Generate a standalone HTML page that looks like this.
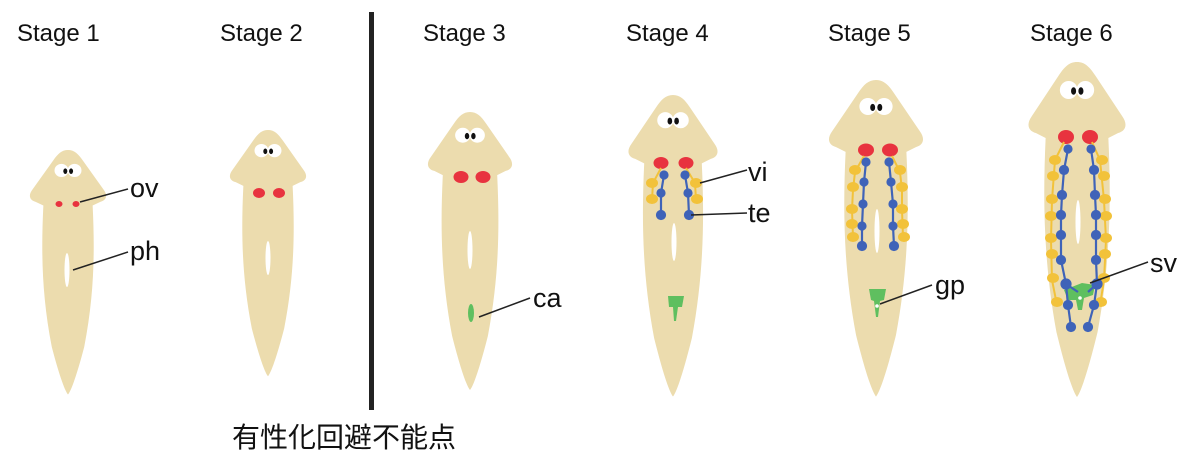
<!DOCTYPE html>
<html><head><meta charset="utf-8"><style>
html,body{margin:0;padding:0;background:#fff;width:1200px;height:470px;overflow:hidden}
svg{display:block}
text{font-family:"Liberation Sans","Noto Sans CJK JP",sans-serif;fill:#111}
</style></head><body>
<svg width="1200" height="470" viewBox="0 0 1200 470">
<defs>
<path id="w" d="M0,0 C-8,0 -13,5 -19,14 L-46,54 C-52,62 -50,69 -42,71 L-32,76 C-35,140 -34,200 -21,270 C-11,310 -4,330 0,335 C4,330 11,310 21,270 C34,200 35,140 32,76 L42,71 C50,69 52,62 46,54 L19,14 C13,5 8,0 0,0Z" fill="#ecdcae"/>
<g id="eyes"><circle cx="-8.5" cy="28" r="9" fill="#fff"/><circle cx="8.5" cy="28" r="9" fill="#fff"/><ellipse cx="-3.5" cy="29" rx="2.6" ry="3.8" fill="#111"/><ellipse cx="4" cy="29" rx="2.6" ry="3.8" fill="#111"/></g>
</defs>
<g font-size="24">
<text x="17" y="41">Stage 1</text><text x="220" y="41">Stage 2</text><text x="423" y="41">Stage 3</text>
<text x="626" y="41">Stage 4</text><text x="828" y="41">Stage 5</text><text x="1030" y="41">Stage 6</text>
</g>
<rect x="369" y="12" width="5" height="398" fill="#222"/>
<text x="232" y="447" font-size="28">有性化回避不能点</text>

<!-- Stage 1 -->
<g transform="translate(68,150) scale(0.77,0.73)"><use href="#w"/><use href="#eyes"/></g>
<ellipse cx="59" cy="204" rx="3.5" ry="3" fill="#e8333f"/><ellipse cx="76" cy="204" rx="3.5" ry="3" fill="#e8333f"/>
<ellipse cx="67" cy="270" rx="2.5" ry="17" fill="#fff"/>
<line x1="80" y1="202" x2="128" y2="189" stroke="#222" stroke-width="1.5"/>
<line x1="73" y1="270" x2="128" y2="252" stroke="#222" stroke-width="1.5"/>
<text x="130" y="197" font-size="27">ov</text><text x="130" y="260" font-size="27">ph</text>

<!-- Stage 2 -->
<g transform="translate(268,130) scale(0.77,0.735)"><use href="#w"/><use href="#eyes"/></g>
<ellipse cx="259" cy="193" rx="6" ry="5" fill="#e8333f"/><ellipse cx="279" cy="193" rx="6" ry="5" fill="#e8333f"/>
<ellipse cx="268" cy="258" rx="2.5" ry="17" fill="#fff"/>

<!-- Stage 3 -->
<g transform="translate(470,112) scale(0.85,0.83)"><use href="#w"/><use href="#eyes"/></g>
<ellipse cx="461" cy="177" rx="7.5" ry="6" fill="#e8333f"/><ellipse cx="483" cy="177" rx="7.5" ry="6" fill="#e8333f"/>
<ellipse cx="470" cy="250" rx="2.5" ry="19" fill="#fff"/>
<ellipse cx="471" cy="313" rx="3" ry="9" fill="#5fbf5f"/>
<line x1="479" y1="317" x2="530" y2="298" stroke="#222" stroke-width="1.5"/>
<text x="533" y="307" font-size="27">ca</text>

<!-- Stage 4 -->
<g transform="translate(673,95) scale(0.9,0.9)"><use href="#w"/><use href="#eyes"/></g>
<ellipse cx="661" cy="163" rx="7.5" ry="6" fill="#e8333f"/><ellipse cx="686" cy="163" rx="7.5" ry="6" fill="#e8333f"/>
<g stroke="#f2c23a" stroke-width="2" fill="#f2c23a">
<polyline points="661,168 653,183 652,200" fill="none"/><polyline points="686,168 695,183 696,200" fill="none"/>
<ellipse cx="652" cy="183" rx="5" ry="4"/><ellipse cx="652" cy="199" rx="5" ry="4"/>
<ellipse cx="696" cy="183" rx="5" ry="4"/><ellipse cx="697" cy="199" rx="5" ry="4"/>
</g>
<g stroke="#3f63b8" stroke-width="2.2" fill="#3f63b8">
<polyline points="664,175 661,193 661,215" fill="none"/><polyline points="685,175 688,193 689,215" fill="none"/>
<circle cx="664" cy="175" r="3.5"/><circle cx="661" cy="193" r="3.5"/><circle cx="661" cy="215" r="4"/>
<circle cx="685" cy="175" r="3.5"/><circle cx="688" cy="193" r="3.5"/><circle cx="689" cy="215" r="4"/>
</g>
<ellipse cx="674" cy="242" rx="2.5" ry="19" fill="#fff"/>
<path d="M668,296 L684,296 L682,307 L678,307 L676,321 L674,321 L673,307 L669,307Z" fill="#5fbf5f"/>
<line x1="700" y1="183" x2="747" y2="170" stroke="#222" stroke-width="1.5"/>
<line x1="691" y1="215" x2="747" y2="213" stroke="#222" stroke-width="1.5"/>
<text x="748" y="181" font-size="27">vi</text><text x="748" y="222" font-size="27">te</text>

<!-- Stage 5 -->
<g transform="translate(876,80) scale(0.95,0.945)"><use href="#w"/><use href="#eyes"/></g>
<ellipse cx="866" cy="150" rx="8" ry="6.5" fill="#e8333f"/><ellipse cx="890" cy="150" rx="8" ry="6.5" fill="#e8333f"/>
<g stroke="#f2c23a" stroke-width="2" fill="#f2c23a">
<polyline points="864,156 855,172 853,190 852,210 853,237" fill="none"/><polyline points="892,156 900,172 902,190 902,210 903,237" fill="none"/>
<ellipse cx="855" cy="170" rx="5" ry="4"/><ellipse cx="853" cy="187" rx="5" ry="4"/><ellipse cx="852" cy="209" rx="5" ry="4"/><ellipse cx="852" cy="224" rx="5" ry="4"/><ellipse cx="853" cy="237" rx="5" ry="4"/>
<ellipse cx="900" cy="170" rx="5" ry="4"/><ellipse cx="902" cy="187" rx="5" ry="4"/><ellipse cx="902" cy="209" rx="5" ry="4"/><ellipse cx="903" cy="224" rx="5" ry="4"/><ellipse cx="904" cy="237" rx="5" ry="4"/>
</g>
<g stroke="#3f63b8" stroke-width="2.2" fill="#3f63b8">
<polyline points="866,162 864,182 863,204 862,226 862,246" fill="none"/><polyline points="889,162 891,182 893,204 893,226 894,246" fill="none"/>
<circle cx="866" cy="162" r="3.5"/><circle cx="864" cy="182" r="3.5"/><circle cx="863" cy="204" r="3.5"/><circle cx="862" cy="226" r="3.5"/><circle cx="862" cy="246" r="4"/>
<circle cx="889" cy="162" r="3.5"/><circle cx="891" cy="182" r="3.5"/><circle cx="893" cy="204" r="3.5"/><circle cx="893" cy="226" r="3.5"/><circle cx="894" cy="246" r="4"/>
</g>
<ellipse cx="877" cy="231" rx="2.5" ry="22" fill="#fff"/>
<path d="M869,289 L886,289 L884,300 L880,301 L878,317 L876,317 L874,301 L871,300Z" fill="#5fbf5f"/>
<circle cx="877" cy="306" r="1.8" fill="#fff"/>
<line x1="880" y1="304" x2="932" y2="285" stroke="#222" stroke-width="1.5"/>
<text x="935" y="294" font-size="27">gp</text>

<!-- Stage 6 -->
<g transform="translate(1077,62) scale(0.98,1)"><use href="#w"/><use href="#eyes"/></g>
<ellipse cx="1066" cy="137" rx="8" ry="7" fill="#e8333f"/><ellipse cx="1090" cy="137" rx="8" ry="7" fill="#e8333f"/>
<g stroke="#f2c23a" stroke-width="2" fill="#f2c23a">
<polyline points="1064,142 1055,160 1052,200 1051,240 1052,280 1057,305" fill="none"/><polyline points="1092,142 1100,160 1104,200 1106,240 1104,280 1100,305" fill="none"/>
<ellipse cx="1055" cy="160" rx="5" ry="4"/><ellipse cx="1053" cy="176" rx="5" ry="4"/><ellipse cx="1052" cy="199" rx="5" ry="4"/><ellipse cx="1051" cy="216" rx="5" ry="4"/><ellipse cx="1051" cy="238" rx="5" ry="4"/><ellipse cx="1052" cy="254" rx="5" ry="4"/><ellipse cx="1053" cy="278" rx="5" ry="4"/><ellipse cx="1057" cy="302" rx="5" ry="4"/>
<ellipse cx="1102" cy="160" rx="5" ry="4"/><ellipse cx="1104" cy="176" rx="5" ry="4"/><ellipse cx="1105" cy="199" rx="5" ry="4"/><ellipse cx="1106" cy="216" rx="5" ry="4"/><ellipse cx="1106" cy="238" rx="5" ry="4"/><ellipse cx="1105" cy="254" rx="5" ry="4"/><ellipse cx="1104" cy="278" rx="5" ry="4"/><ellipse cx="1101" cy="302" rx="5" ry="4"/>
</g>
<path d="M1064,290 L1082,283 L1095,285 L1093,295 L1084,298 L1082,310 L1078,310 L1076,300 L1068,300Z" fill="#5fbf5f"/>
<circle cx="1080" cy="298" r="1.8" fill="#fff"/>
<g stroke="#3f63b8" stroke-width="2.2" fill="#3f63b8">
<polyline points="1068,149 1064,170 1062,195 1061,215 1061,235 1061,260 1066,284 1068,305 1071,327" fill="none"/>
<polyline points="1091,149 1094,170 1095,195 1096,215 1096,235 1096,260 1097,284 1094,305 1088,327" fill="none"/>
<line x1="1066" y1="284" x2="1078" y2="292" /><line x1="1097" y1="284" x2="1088" y2="292"/>
<circle cx="1068" cy="149" r="3.5"/><circle cx="1064" cy="170" r="4"/><circle cx="1062" cy="195" r="4"/><circle cx="1061" cy="215" r="4"/><circle cx="1061" cy="235" r="4"/><circle cx="1061" cy="260" r="4"/><circle cx="1066" cy="284" r="4.5"/><circle cx="1068" cy="305" r="4"/><circle cx="1071" cy="327" r="4"/>
<circle cx="1091" cy="149" r="3.5"/><circle cx="1094" cy="170" r="4"/><circle cx="1095" cy="195" r="4"/><circle cx="1096" cy="215" r="4"/><circle cx="1096" cy="235" r="4"/><circle cx="1096" cy="260" r="4"/><circle cx="1097" cy="284" r="4.5"/><circle cx="1094" cy="305" r="4"/><circle cx="1088" cy="327" r="4"/>
</g>
<ellipse cx="1078" cy="222" rx="2.5" ry="22" fill="#fff"/>
<line x1="1090" y1="283" x2="1148" y2="262" stroke="#222" stroke-width="1.5"/>
<text x="1150" y="272" font-size="27">sv</text>
</svg>
</body></html>
